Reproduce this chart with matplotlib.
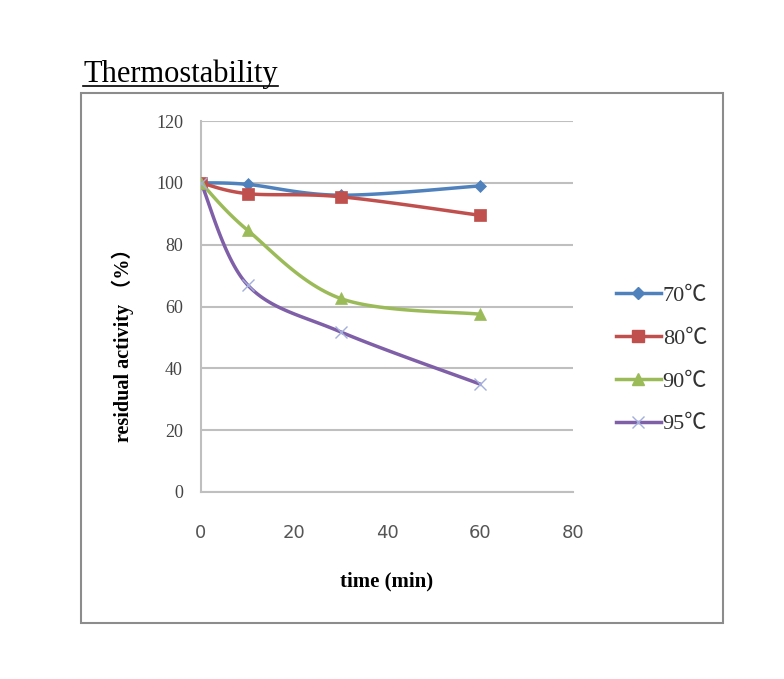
import numpy as np
import matplotlib.pyplot as plt
from matplotlib.patches import Rectangle

# data
time = [0, 10, 30, 60]
act_70 = [100, 99.5, 96, 99]
act_80 = [100, 96.5, 95.5, 89.5]
act_90 = [100, 84.7, 62.6, 57.5]
act_95 = [100, 67, 51.8, 34.9]
labels = ['70℃', '80℃', '90℃', '95℃']

colors = ['#4F81BD', '#C0504D', '#9BBB59', '#7F5FA8']
markers = ['D', 's', '^', 'x']
msizes = [6, 8, 8, 9]


def smooth(x, y, n=30):
    # Excel-style smoothed line: cubic Bezier segments with cardinal tangents
    x = np.asarray(x, float)
    y = np.asarray(y, float)
    px = np.concatenate([[x[0]], x, [x[-1]]])
    py = np.concatenate([[y[0]], y, [y[-1]]])
    t = np.linspace(0, 1, n)
    xs, ys = [], []
    for i in range(len(x) - 1):
        p0 = np.array([px[i + 1], py[i + 1]])
        p3 = np.array([px[i + 2], py[i + 2]])
        p1 = p0 + (np.array([px[i + 2], py[i + 2]]) - np.array([px[i], py[i]])) / 6
        p2 = p3 - (np.array([px[i + 3], py[i + 3]]) - np.array([px[i + 1], py[i + 1]])) / 6
        b = ((1 - t) ** 3)[:, None] * p0 + (3 * (1 - t) ** 2 * t)[:, None] * p1 \
            + (3 * (1 - t) * t ** 2)[:, None] * p2 + (t ** 3)[:, None] * p3
        xs.append(b[:, 0])
        ys.append(b[:, 1])
    return np.concatenate(xs), np.concatenate(ys)


plt.rcParams['font.family'] = ['Liberation Serif', 'Noto Sans CJK JP', 'DejaVu Sans']

fig = plt.figure(figsize=(7.84, 6.79), dpi=100)
fig.patches.append(Rectangle((81 / 784, 1 - 623 / 679), 642 / 784, 530 / 679,
                             transform=fig.transFigure, fill=False,
                             edgecolor='#8C8C8C', linewidth=1.5))
fig.text(83 / 784, 1 - 82 / 679, 'Thermostability', fontsize=22,
         va='baseline', ha='left')
fig.add_artist(plt.Line2D([83 / 784, 278 / 784], [1 - 86 / 679, 1 - 86 / 679],
                          transform=fig.transFigure, color='black', linewidth=1.2))

ax = fig.add_axes([201 / 784, 1 - 492 / 679, 372 / 784, 371 / 679])
series = [act_70, act_80, act_90, act_95]
for vals, lab, c, m, ms in zip(series, labels, colors, markers, msizes):
    sx, sy = smooth(time, vals)
    ax.plot(sx, sy, color=c, linewidth=2.5, zorder=3)
    mc = '#A3AEDB' if m == 'x' else c
    ax.plot(time, vals, linestyle='none', marker=m, markersize=ms,
            color=mc, markeredgewidth=1 if m == 'x' else 0.5, zorder=4)
    ax.plot([], [], color=c, linewidth=2.5, marker=m, markersize=ms,
            markerfacecolor=mc, markeredgecolor=mc, label=lab)

ax.set_xlim(0, 80)
ax.set_ylim(0, 120)
ax.set_xticks(range(0, 81, 20))
ax.set_yticks(range(0, 121, 20))
ax.yaxis.grid(True, color='#BFBFBF', linewidth=1.5)
ax.set_axisbelow(True)
for s in ['top', 'right']:
    ax.spines[s].set_visible(False)
for s in ['left', 'bottom']:
    ax.spines[s].set_color('#BFBFBF')
    ax.spines[s].set_linewidth(1.5)
ax.tick_params(length=0)
ax.tick_params(axis='x', pad=23, labelsize=13, labelcolor='#555555')
ax.tick_params(axis='y', pad=13, labelsize=13, labelcolor='#444444')
for t in ax.get_xticklabels():
    t.set_family('DejaVu Sans')

ax.set_xlabel('time (min)', fontsize=15, fontweight='bold', labelpad=21)
ax.set_ylabel('residual activity （%）', fontsize=14.5, fontweight='bold')
ax.yaxis.set_label_coords(-67 / 372, 0.41)

ax.legend(loc='center left', bbox_to_anchor=(1.062, 0.356), frameon=False,
          fontsize=16, handlelength=2.0, handletextpad=0.1, labelspacing=1.0,
          labelcolor='#333333')

fig.savefig('out.png', dpi=100)
